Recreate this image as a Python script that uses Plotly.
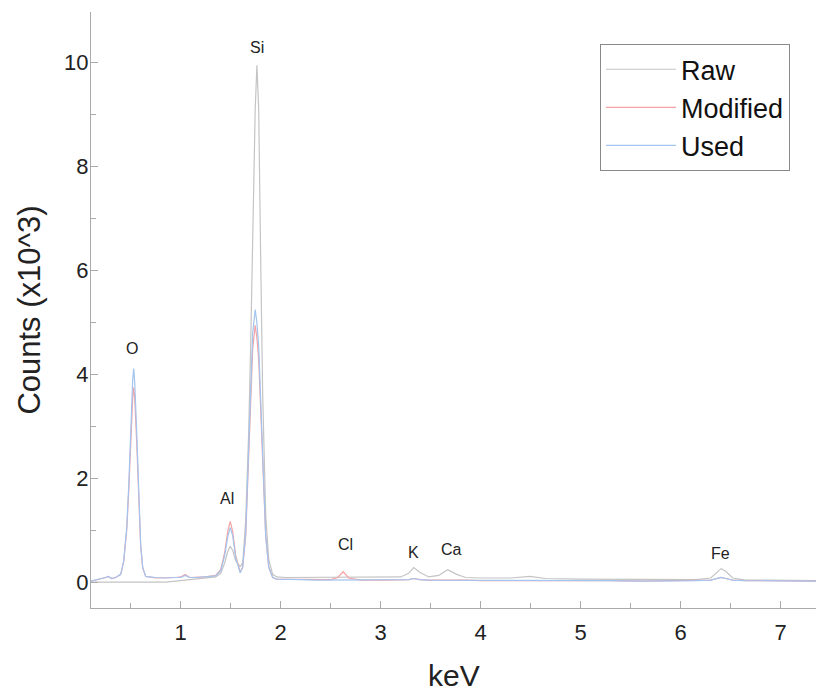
import plotly.graph_objects as go

# Energy grid (keV)
energy = [0.10, 0.15, 0.20, 0.25, 0.275, 0.31, 0.35, 0.40, 0.43, 0.46,
          0.48, 0.50, 0.52, 0.53, 0.54, 0.56, 0.58, 0.60, 0.62, 0.65,
          0.75, 0.85, 0.95, 1.00, 1.045, 1.09, 1.15, 1.25, 1.35, 1.40,
          1.44, 1.47, 1.495, 1.52, 1.55, 1.595, 1.62, 1.65, 1.68, 1.70,
          1.72, 1.745, 1.762, 1.78, 1.80, 1.82, 1.85, 1.88, 1.92, 1.96,
          2.05, 2.20, 2.35, 2.50, 2.57, 2.625, 2.68, 2.80, 3.00, 3.20,
          3.28, 3.33, 3.39, 3.48, 3.58, 3.67, 3.76, 3.85, 4.00, 4.30,
          4.49, 4.65, 5.00, 5.30, 5.60, 5.90, 6.15, 6.30, 6.36, 6.405,
          6.45, 6.52, 6.65, 6.90, 7.10, 7.40]

# Counts (x10^3)
raw = [0.01, 0.01, 0.01, 0.01, 0.01, 0.01, 0.01, 0.01, 0.01, 0.01,
       0.01, 0.01, 0.01, 0.01, 0.01, 0.01, 0.01, 0.01, 0.01, 0.01,
       0.01, 0.01, 0.03, 0.04, 0.06, 0.06, 0.08, 0.10, 0.11, 0.18,
       0.38, 0.60, 0.70, 0.62, 0.42, 0.31, 0.38, 1.20, 2.90, 4.60,
       6.80, 9.10, 9.95, 9.10, 6.20, 3.60, 1.30, 0.45, 0.16, 0.11,
       0.10, 0.10, 0.10, 0.10, 0.10, 0.11, 0.10, 0.10, 0.10, 0.11,
       0.18, 0.29, 0.20, 0.11, 0.14, 0.25, 0.16, 0.10, 0.09, 0.09,
       0.12, 0.08, 0.07, 0.07, 0.06, 0.06, 0.06, 0.09, 0.20, 0.27,
       0.22, 0.09, 0.05, 0.05, 0.04, 0.04]

modified = [0.03, 0.05, 0.07, 0.10, 0.12, 0.08, 0.10, 0.16, 0.40, 1.00,
            1.75, 2.80, 3.55, 3.75, 3.55, 2.70, 1.50, 0.70, 0.28, 0.12,
            0.09, 0.09, 0.10, 0.11, 0.16, 0.10, 0.10, 0.11, 0.14, 0.25,
            0.58, 0.98, 1.18, 0.98, 0.52, 0.20, 0.30, 0.90, 2.45, 3.60,
            4.50, 4.95, 4.70, 4.30, 3.30, 2.30, 0.90, 0.30, 0.10, 0.07,
            0.07, 0.06, 0.06, 0.06, 0.10, 0.21, 0.09, 0.05, 0.05, 0.05,
            0.06, 0.08, 0.06, 0.05, 0.05, 0.06, 0.05, 0.05, 0.04, 0.04,
            0.05, 0.04, 0.04, 0.04, 0.03, 0.04, 0.04, 0.05, 0.08, 0.10,
            0.08, 0.05, 0.04, 0.04, 0.03, 0.03]

used = [0.03, 0.05, 0.07, 0.10, 0.12, 0.08, 0.10, 0.16, 0.42, 1.05,
        1.85, 2.95, 3.90, 4.12, 3.85, 2.90, 1.60, 0.72, 0.30, 0.12,
        0.10, 0.09, 0.10, 0.10, 0.14, 0.10, 0.10, 0.11, 0.13, 0.23,
        0.52, 0.88, 1.06, 0.90, 0.48, 0.19, 0.30, 0.95, 2.60, 3.80,
        4.80, 5.25, 5.00, 4.55, 3.40, 2.35, 0.90, 0.30, 0.10, 0.07,
        0.07, 0.06, 0.05, 0.05, 0.05, 0.06, 0.05, 0.05, 0.05, 0.05,
        0.06, 0.08, 0.06, 0.05, 0.05, 0.05, 0.05, 0.04, 0.04, 0.04,
        0.04, 0.04, 0.04, 0.04, 0.03, 0.03, 0.04, 0.05, 0.08, 0.10,
        0.08, 0.05, 0.04, 0.04, 0.03, 0.03]

# Element labels
elements = ["O", "Al", "Si", "Cl", "K", "Ca", "Fe"]
label_x = [0.513, 1.463, 1.763, 2.643, 3.323, 3.703, 6.393]
label_y = [4.51, 1.61, 10.30, 0.73, 0.59, 0.63, 0.57]

series_names = ["Raw", "Modified", "Used"]
series_colors = ["#c4c4c4", "#f5a3a3", "#a3c4ee"]

assert len(energy) == len(raw) == len(modified) == len(used)

FONT = "Liberation Sans, Arial"

fig = go.Figure()
for name, vals, col in zip(series_names, [raw, modified, used], series_colors):
    fig.add_trace(go.Scatter(x=energy, y=vals, mode="lines", name=name,
                             legendgroup=name,
                             line=dict(color=col, width=1.2)))

for t, xv, yv in zip(elements, label_x, label_y):
    fig.add_annotation(x=xv, y=yv, text=t, showarrow=False,
                       font=dict(family=FONT, size=16, color="#222"))

# x-axis title (placed as paper annotation to sit lower than margins allow)
fig.add_annotation(x=0.5, y=-0.113, xref="paper", yref="paper",
                   text="keV", showarrow=False, xanchor="center", yanchor="middle",
                   font=dict(family=FONT, size=30, color="#222"))

axis_common = dict(showline=True, linecolor="#aaaaaa", linewidth=1,
                   ticks="inside", tickcolor="#aaaaaa", ticklen=7,
                   showgrid=False, zeroline=False, mirror=False,
                   automargin=False,
                   tickfont=dict(family=FONT, size=22, color="#222"))

fig.update_layout(
    width=816, height=691,
    paper_bgcolor="white", plot_bgcolor="white",
    margin=dict(l=91, r=0, t=12, b=83),
    font=dict(family=FONT, color="#222"),
    xaxis=dict(range=[0.103, 7.353], dtick=1, tick0=0,
               minor=dict(dtick=0.5, ticks="inside", ticklen=5, tickcolor="#aaaaaa"),
               ticklabelstandoff=5,
               **axis_common),
    yaxis=dict(range=[-0.487, 10.975], dtick=2, tick0=0,
               minor=dict(dtick=1, ticks="inside", ticklen=5, tickcolor="#aaaaaa"),
               ticklabelstandoff=-3,
               title=dict(text="Counts (x10^3)", font=dict(size=31, color="#222"), standoff=14),
               **axis_common),
    legend=dict(x=0.702, y=0.946, xanchor="left", yanchor="top",
                bgcolor="white", bordercolor="#888888", borderwidth=1,
                font=dict(size=27, color="#111"), tracegroupgap=0,
                itemwidth=70),
)

fig.write_html("out.html",
               config={"displayModeBar": False},
               post_script="document.body.style.margin='0';"
                           "document.body.style.overflow='hidden';")
